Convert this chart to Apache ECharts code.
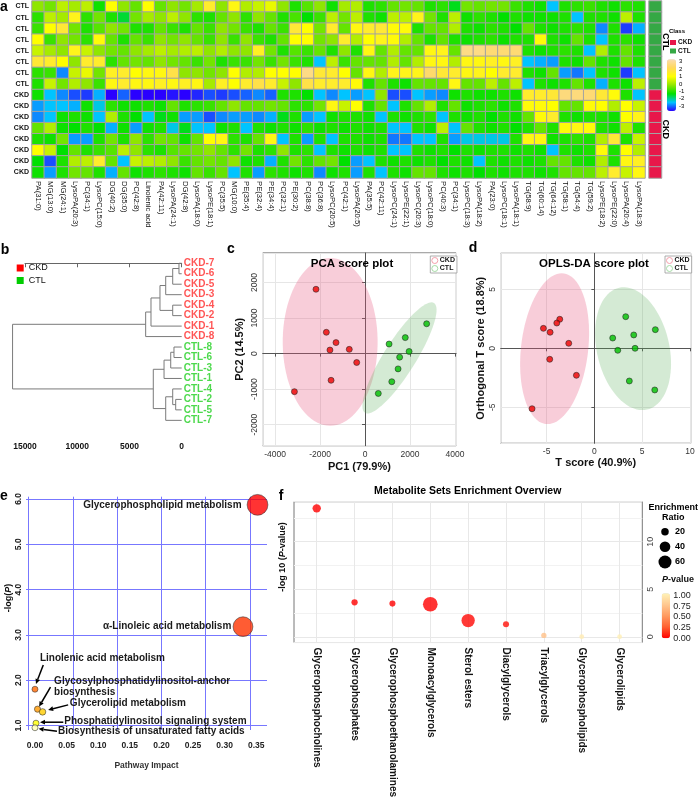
<!DOCTYPE html>
<html><head><meta charset="utf-8">
<script src="https://cdn.jsdelivr.net/npm/echarts@6/dist/echarts.min.js"></script>
<style>html,body{margin:0;padding:0;background:#fff}#c{width:698px;height:800px}</style>
</head><body><div id="c"></div>
<script>
const F = "'Liberation Sans', Arial, Helvetica, sans-serif";

// ---------- panel a: heatmap ----------
const heatCols = ['PA(31:0)','MG(13:0)','MG(24:1)','LysoPA(20:3)','PC(34:1)','LysoPC(15:0)','DG(40:2)','DG(35:0)','PC(42:8)','Linolenic acid','PA(42:11)','LysoPA(24:1)','DG(42:8)','LysoPA(18:0)','LysoPE(18:1)','PC(35:5)','MG(10:0)','PE(35:4)','PE(32:4)','PE(34:4)','PC(32:1)','PE(30:2)','PC(38:8)','PC(36:8)','LysoPC(20:5)','PC(42:1)','LysoPA(20:5)','PA(35:5)','PC(42:11)','LysoPC(24:1)','LysoPE(22:1)','LysoPC(20:3)','LysoPC(18:0)','PC(40:3)','PC(34:1)','LysoPC(18:3)','LysoPA(18:2)','PA(23:0)','LysoPC(18:1)','LysoPA(18:1)','TG(58:9)','TG(60:14)','TG(64:12)','TG(58:1)','TG(54:4)','TG(59:2)','LysoPE(18:2)','LysoPE(22:0)','LysoPA(20:4)','LysoPA(18:3)'];
const heatRowLabels = ['CTL','CTL','CTL','CTL','CTL','CTL','CTL','CTL','CKD','CKD','CKD','CKD','CKD','CKD','CKD','CKD'];
const heatRows = [
 [0,-0.2,0.4,0.2,0.4,-0.9,1,0,-0.3,1,-0.3,0,-0.2,0.2,1.5,0,1.2,0.3,0.5,0.8,0,-0.8,-0.4,0,-0.9,0.2, 0.3,-0.8,-0.7,-0.3,-0.2,-0.3,-0.8,-0.7,-1.1,-0.2,-0.3,-0.2,-0.2,-0.6,-0.8,-0.9,-2,-0.8,-0.7,-0.6, -0.8,-0.9,-0.7,-0.8],
 [-0.7,0.4,0.2,1.3,-0.7,-0.2,-0.8,-1.2,-0.2,0.2,0,0.4,0,-0.7,-0.8,-0.3,0,-0.7,0,-0.3,-0.8,-0.5,-1,-0.6,0.4,-0.2, 0.4,-0.8,-0.9,0.4,0.4,1.3,-0.2,-0.8,0.4,-0.9,-0.7,-0.8,-1,-0.8,-0.9,-0.9,-0.9,-0.8,-2.0,-0.8, -0.8,-0.9,0.4,-0.8],
 [-0.6,1,1.6,-0.2,-0.8,-0.4,0,-0.2,-0.8,-0.8,-0.3,-0.6,-0.8,-0.3,-0.6,0,-0.2,-0.6,-0.8,-0.3,-0.6,1.6,1,-0.2,1.5,-0.3, 1.2,1.5,1.6,1.1,1.1,-0.8,-0.3,-0.3,0.3,-0.8,-0.9,-0.7,-0.8,-1,-0.3,-0.8,-0.9,-0.8,-0.7,-0.8, -2.3,-0.8,-2.7,-2.1],
 [1,-0.6,0,-0.2,-0.7,1.1,-0.3,-0.8,-0.3,-0.6,0,-0.2,0,-0.3,-0.6,0,-0.6,0,-0.6,-0.8,-0.3,1,1,-0.2,0,1.5, 0.3,1,1.3,1.1,0.3,-0.3,-0.8,-0.3,-0.8,-0.9,-0.8,-0.7,-0.9,-0.8,-0.8,1.1,-0.8,-0.9,-0.3,-0.8, -2,-0.8,-0.7,-0.9],
 [0.5,0.2,0,1.3,0.5,0,-0.2,-0.3,0,0.2,0.4,0.2,0.3,0.4,0,0.3,0,0,1.4,-0.2,-0.8,-0.4,-0.6,-0.3,-0.8,0, -0.8,1.2,-0.3,0.3,-0.3,-0.3,1.2,1.3,-0.3,2.5,2.5,2.3,2.3,2.3,-0.8,-0.9,-0.8,-0.7,-0.8,-2.0, 0.3,-0.8,-0.3,-0.8],
 [1.6,1.5,1,0,1.5,1.5,-0.7,-0.3,-0.2,-0.3,0,-0.2,-0.3,-0.6,-0.2,-0.8,-0.6,-0.6,-0.2,-0.6,-0.2,-0.6,-0.8,-2,0.4,-0.6, -0.3,-0.3,-0.3,0.3,-0.3,0.3,1.2,1.2,0.3,1.2,1.2,1.4,1.2,1.4,-2.0,-2.1,-2.2,-0.8,-0.9,-0.3, -0.8,-0.9,-0.3,-0.8],
 [-0.7,-0.6,-2.3,0.5,0.8,-0.2,1.4,1.5,1,1.2,1.2,1.8,0,0,-0.2,0,1,0.3,0.3,1,1,1,2.5,1.6,1.5,1, -0.3,1.2,0.3,1.3,1.3,1.3,2.2,1.6,1.5,1.2,1.3,1,1.5,1.5,-0.8,-0.9,-0.3,-2.2,-2.4,-2.0, -0.8,-0.9,-2.7,-2],
 [-0.8,0.5,-0.2,0.3,0,-0.6,1.2,1.5,1.2,1.2,1.4,1.2,1.4,1.2,0.2,1.4,1,1.5,1.8,1.5,0.5,0,1.8,1.5,1.5,1.5, 1.1,-0.8,-0.3,-0.8,-0.9,-0.3,-0.3,-0.3,1.2,-0.3,-0.3,0.4,-0.3,0.4,-2.0,-0.8,-0.9,-0.8,-0.3,-0.8, -2.1,-0.8,-0.9,0.4],
 [-0.9,-2,-2.3,-2.6,-2.7,-2.1,-3,-2.5,-3.2,-3,-3.1,-2.9,-3,-2.8,-2.6,-2.7,-2.6,-2.5,-2.3,-2.5,-0.8,-0.8,-1,-2,-2.3,-2, -2.2,-2,0,-2.6,-2.6,-2,-2.2,-2.3,-0.9,-0.8,-0.9,-0.9,-0.8,-0.9,1.5,1.5,1.6,2.4,2.4,2.3, 1.6,1.1,-0.8,-2],
 [-2.2,-2,-2,-2.1,-0.9,-1.9,-0.7,-0.9,-0.9,-0.8,-0.9,-0.3,-0.8,-0.7,-0.6,-0.3,0,-0.3,-0.3,-0.2,-0.3,-0.7,-0.7,-0.2,1.2,0.5, 1,-0.8,-0.3,-2,-0.8,-0.3,0.3,-0.8,-0.3,-0.9,-0.8,-0.7,-0.9,-0.8,1.1,1.1,1,-0.3,-0.3,1.1, 1,0.3,1,0.5],
 [-2.3,-2,-0.9,-0.8,-0.9,-2,0.3,-0.8,-1,-2,-1.1,-0.9,-2.2,-2.2,-2.6,-2.3,-2.2,-2.2,-2.3,-2.1,-1.1,-0.8,-2.2,-2,-0.9,-0.8, -0.8,-0.9,-2,-0.8,-0.9,-0.8,-0.7,-2,-0.8,-0.9,-0.8,-1,-0.8,-0.9,-0.3,1.1,1.5,-0.8,-0.9,-0.8, -0.8,-0.9,1,1.3],
 [-0.3,0.3,-0.9,-1,-0.8,-1,-2.1,-0.9,-2.2,-0.9,-0.8,-1.9,-1.1,-2,-2,-0.9,-0.8,-2,-0.8,-0.9,-0.8,-0.9,-0.7,-0.9,-0.8,-0.9, -0.8,-0.9,-0.8,-2,-2,-0.8,-0.9,0.4,-2,-0.3,-0.8,-0.9,-0.8,-1,-0.8,-0.3,-0.8,1.1,1.2,1.1, -0.8,-0.9,0.4,-0.8],
 [-0.8,-0.9,-0.2,-2.2,-2.2,-0.8,-0.2,-0.8,0,-0.7,-0.2,-0.3,-0.9,-0.3,1,1.2,-0.7,-0.8,-0.3,1.2,-2,-0.8,-2.2,-0.8,-2,-0.8, -0.8,-0.9,-0.8,-2.4,-2.4,-2,-2,-0.8,-2.2,-1.9,-1.9,-1.9,-1.9,-0.8,1.2,1.2,-0.9,-0.8,-0.7,-0.8, 0.3,1.6,-0.8,0.5],
 [1,0.5,-1,-0.3,-0.8,-0.6,-0.4,0.4,0,-0.7,-0.8,-0.4,-0.3,-0.2,0,-0.3,-0.7,-0.2,-0.8,-0.7,0,-0.8,-0.7,-2,-0.8,-0.9, -0.8,-0.9,-0.8,-2,-2,-0.8,-0.9,-0.8,-1,-0.8,-0.9,-0.8,-0.8,-0.9,-0.8,-0.9,-2,-0.8,-0.9,-0.8, 1.1,-0.8,1,0.3],
 [-1,-2.6,-0.8,0.3,0.4,1.5,-0.3,-2,0.5,0.4,0.3,0,-0.6,-0.3,-0.2,-0.3,0,-0.9,-0.8,-2.1,-0.8,-0.2,-0.7,-0.3,-0.2,-1, -2.2,-2,-0.8,-0.9,-0.8,-0.9,-0.8,-1,-0.8,-0.9,-2,-0.8,-0.9,-0.8,-0.9,-0.8,-0.3,-0.3,-0.8,-0.9, 0.3,-0.8,1.2,1.4],
 [-0.9,-2.2,-0.8,-0.2,-0.3,-0.8,-2.1,-0.3,-0.9,-0.8,-0.7,-0.8,-0.9,-0.3,-0.6,-0.3,-2,-0.8,-2.2,-0.7,-0.8,-0.9,-0.8,-2.3,-0.9,-0.8, -2.2,-0.8,-2,-0.8,-0.9,-0.3,-0.3,-0.8,-0.9,-0.8,-1,-0.8,-0.9,-0.8,-0.8,-0.9,-0.8,-0.3,-0.3,-0.3, 0.4,1.5,0.5,1.2]
];
const heatTicks = [3,2,1,0,-1,-2,-3];

// ---------- panel b: dendrogram ----------
const leafOrder = ['CKD-7','CKD-6','CKD-5','CKD-3','CKD-4','CKD-2','CKD-1','CKD-8','CTL-8','CTL-6','CTL-3','CTL-1','CTL-4','CTL-2','CTL-5','CTL-7'];
const merges = [
 ['CKD-7','CKD-6',260],['m0','CKD-5',860],['m1','CKD-3',1530],['CKD-4','CKD-2',860],['m2','m3',2080],
 ['m4','CKD-1',2940],['m5','CKD-8',3450],['CTL-8','CTL-6',740],['m7','CTL-3',1050],['m8','CTL-1',1690],
 ['CTL-2','CTL-5',575],['CTL-4','m10',860],['m11','CTL-7',1530],['m9','m12',2720],['m6','m13',16190]
];

// ---------- panel c: PCA ----------
const pcaCKD = [[-2180,1810],[-1720,600],[-1290,310],[-1560,100],[-700,120],[-370,-250],[-1510,-750],[-3140,-1070]];
const pcaCTL = [[2740,840],[1790,450],[1070,270],[1960,60],[1540,-100],[1470,-430],[1190,-790],[590,-1120]];
const pcaEllCKD = {c:[-1550,330], a:[0,2360], b:[2110,0]};
const pcaEllCTL = {c:[1533,-121], a:[1533,1545], b:[604,-239]};

// ---------- panel d: OPLS-DA ----------
const oplsCKD = [[-5.33,1.69],[-3.62,2.46],[-3.93,2.14],[-4.63,1.36],[-2.68,0.42],[-4.67,-0.93],[-1.88,-2.29],[-6.52,-5.12]];
const oplsCTL = [[3.28,2.68],[6.38,1.58],[4.12,1.13],[1.92,0.87],[2.45,-0.17],[4.26,0],[3.66,-2.77],[6.32,-3.53]];
const oplsEllCKD = {c:[-4.16,-0.03], a:[0.74,6.39], b:[3.53,0]};
const oplsEllCTL = {c:[4.05,-0.03], a:[-1.19,5.2], b:[3.79,0.3]};

// ---------- panel e: pathway impact ----------
const ePathways = ['Glycerophospholipid metabolism','α-Linoleic acid metabolism','Linolenic acid metabolism','Glycosylphosphatidylinositol-anchor biosynthesis','Glycerolipid metabolism','Phosphatidylinositol signaling system','Biosynthesis of unsaturated fatty acids'];
const eImpact = [0.352,0.329,0.0,0.004,0.012,0.0016,0.0];
const eLogP = [5.87,3.18,1.80,1.36,1.30,1.05,0.95];
const eYTicks = [1,2,3,4,5,6];
const eGridX = [-0.0142,0.056,0.1262,0.1964,0.2666,0.3368];

// ---------- panel f: enrichment ----------
const fSets = ['Glycerophosphocholines','Glycerophosphates','Glycerophosphoethanolamines','Monoacylglycerols','Sterol esters','Diacylglycerols','Triacylglycerols','Glycerophospholipids','Glycerolipids'];
const fLogP = [13.5,3.63,3.49,3.42,1.71,1.33,0.15,0.02,0.01];
const fRatio = [25,14,13,76,63,13,10,8,8];
const fMinorY = [2.5,7.5,12.5];
const fSizeLegend = [20,40,60];
const fPTicks = [1.00,0.75,0.50,0.25,0.00];

// ================== build ==================
const heatData = [];
heatRows.forEach((row,r)=>row.forEach((v,c)=>heatData.push([c,r,v])));
const clsCKD = [], clsCTL = [];
heatRowLabels.forEach((l,r)=>(l==='CKD'?clsCKD:clsCTL).push([0,r,1]));

const nodePos = {};
leafOrder.forEach((n,i)=>nodePos[n]=[0,i]);
merges.forEach((m,k)=>{const a=nodePos[m[0]], b=nodePos[m[1]]; nodePos['m'+k]=[m[2],(a[1]+b[1])/2];});

const fSize = r => 1.68*Math.sqrt(r);
const eSize = imp => 6 + 42*imp;
const heatPal = ['#FF0000','#FF3300','#FF6600','#FF9900','#FFCC00','#FFFF00','#FFFFB8'];
const eRank = eLogP.map((v,i)=>i).sort((a,b)=>eLogP[b]-eLogP[a]);
const eColorIdx = []; eRank.forEach((idx,r)=>eColorIdx[idx]=r);
const plain = v => String(Math.round(v*1000)/1000);

const eAnno = [
 {t:[-16,0], align:'right'},
 {t:[-11.7,0], align:'right'},
 {t:[5,-31], align:'left', tail:[8.3,-24.3], head:[1,-5.3]},
 {t:[16.6,-22.5], align:'left', wrap:true, tail:[13,-22], head:[1.6,-2.6]},
 {t:[27.3,-8.7], align:'left', tail:[25.6,-7], head:[5.6,-2]},
 {t:[28.3,-2], align:'left', tail:[27.3,-1], head:[4,-1]},
 {t:[23,3.4], align:'left', tail:[22,3.4], head:[3.6,1]}
];

function ellipseSeries(gi, ell, fill){
  return {type:'custom', xAxisIndex:gi, yAxisIndex:gi, clip:true, silent:true, z:1,
    data:[[ell.c[0], ell.c[1]]],
    renderItem(params, api){
      const pts=[];
      for(let k=0;k<90;k++){const t=k/90*2*Math.PI;
        pts.push(api.coord([ell.c[0]+ell.a[0]*Math.cos(t)+ell.b[0]*Math.sin(t), ell.c[1]+ell.a[1]*Math.cos(t)+ell.b[1]*Math.sin(t)]));}
      return {type:'polygon', shape:{points:pts}, style:{fill}};
    }};
}
function T(text,x,y,o){o=o||{};
  const st={text, fill:o.color||'#000', font:(o.bold===false?'':'bold ')+(o.size||9)+'px '+F, align:o.align||'center', verticalAlign:'middle'};
  if(o.rich) st.rich=o.rich;
  return {type:'text', x, y, rotation:o.rot||0, silent:true, z:100, style:st};
}
const scoreAxisX = (gi,min,max,split,name,gap)=>({gridIndex:gi,type:'value',min,max,splitNumber:split,
  axisLine:{lineStyle:{color:'#555'}}, axisTick:{length:3,lineStyle:{color:'#555'}},
  axisLabel:{showMinLabel:false,showMaxLabel:false,fontSize:8.5,color:'#333',margin:4,fontFamily:F,formatter:plain},
  splitLine:{lineStyle:{color:'#e6e6e6'}},
  name, nameLocation:'middle', nameGap:gap, nameTextStyle:{fontWeight:'bold',fontSize:11,color:'#111',fontFamily:F}});
const scoreAxisY = (gi,min,max,split,name,gap)=>({gridIndex:gi,type:'value',min,max,splitNumber:split,
  axisLine:{lineStyle:{color:'#555'}}, axisTick:{length:3,lineStyle:{color:'#555'}},
  axisLabel:{showMinLabel:false,showMaxLabel:false,fontSize:8.5,color:'#333',margin:4,rotate:90,fontFamily:F,formatter:plain},
  splitLine:{lineStyle:{color:'#e6e6e6'}},
  name, nameLocation:'middle', nameGap:gap, nameTextStyle:{fontWeight:'bold',fontSize:11,color:'#111',fontFamily:F}});
const ptStyle = c => ({color:c, borderColor:'#222', borderWidth:0.7});
const richLbl = {a:{font:'bold 9px '+F, fill:'#111'}, b:{font:'italic bold 9px '+F, fill:'#111'}};

const option = {
  animation:false,
  textStyle:{fontFamily:F},
  grid:[
    {left:32, top:1, width:613, height:177},
    {left:649, top:1, width:12.5, height:177},
    {left:25, top:252.8, width:156.7, height:184.3},
    {left:262.7, top:253, width:193.4, height:192.7, show:true, borderColor:'#555', borderWidth:1},
    {left:500.7, top:253.3, width:190, height:190, show:true, borderColor:'#555', borderWidth:1},
    {left:26, top:496.7, width:241, height:233.3},
    {left:294, top:501.7, width:348.3, height:144, show:true, borderColor:'#777', borderWidth:1}
  ],
  xAxis:[
    {gridIndex:0, type:'category', data:heatCols.map((c,i)=>String(i)), axisLine:{show:false}, axisTick:{show:false},
      axisLabel:{interval:0, rotate:-90, fontSize:7.7, color:'#111', margin:3, formatter:(v,i)=>heatCols[i]}},
    {gridIndex:1, type:'category', data:['0'], show:false},
    {gridIndex:2, type:'value', min:0, max:15000, interval:5000, inverse:true,
      axisLine:{lineStyle:{color:'#666'}}, axisTick:{length:4, lineStyle:{color:'#666'}},
      axisLabel:{fontSize:8.5, fontWeight:'bold', color:'#111', margin:5, formatter:plain}, splitLine:{show:false}},
    scoreAxisX(3,-4550,4050,4,'PC1 (79.9%)',16),
    scoreAxisX(4,-9.8,10.08,4,'T score (40.9%)',14),
    {gridIndex:5, type:'value', min:-0.0142, max:0.367, splitNumber:8, axisLine:{show:false}, axisTick:{show:false}, splitLine:{show:false},
      axisLabel:{showMinLabel:false, showMaxLabel:false, fontSize:8.5, fontWeight:'bold', color:'#222', margin:11, formatter:v=>v.toFixed(2)},
      name:'Pathway Impact', nameLocation:'middle', nameGap:31, nameTextStyle:{fontSize:8.5, fontWeight:'bold', color:'#333'}},
    {gridIndex:6, type:'value', min:-0.6, max:8.6, splitNumber:9, axisLine:{show:false}, axisTick:{show:false}, splitLine:{show:false},
      axisLabel:{rotate:-90, fontSize:10, fontWeight:'bold', color:'#111', margin:5,
        formatter:v=>(Math.abs(v-Math.round(v))<1e-6 && v>=0 && v<fSets.length)?fSets[Math.round(v)]:''}}
  ],
  yAxis:[
    {gridIndex:0, type:'category', inverse:true, data:heatRowLabels.map((l,i)=>String(i)), axisLine:{show:false}, axisTick:{show:false},
      axisLabel:{fontSize:7, fontWeight:'bold', color:'#111', margin:3, formatter:(v,i)=>heatRowLabels[i]}},
    {gridIndex:1, type:'category', inverse:true, data:heatRowLabels.map((l,i)=>String(i)), show:false},
    {gridIndex:2, type:'value', min:-1, max:16.6, inverse:true, show:false},
    scoreAxisY(3,-2590,2830,5,'PC2 (14.5%)',17),
    scoreAxisY(4,-8.05,8.05,3,'Orthogonal T score (18.8%)',14),
    {gridIndex:5, type:'value', min:0.9, max:6.05, splitNumber:5, axisLine:{show:false}, axisTick:{show:false}, splitLine:{show:false},
      axisLabel:{showMinLabel:false, showMaxLabel:false, rotate:90, fontSize:8.5, fontWeight:'bold', color:'#222', margin:3, formatter:v=>v.toFixed(1)}},
    {gridIndex:6, type:'value', position:'right', min:-0.6, max:14.2, splitNumber:3, axisLine:{show:false}, axisTick:{show:false},
      splitLine:{lineStyle:{color:'#e8e8e8'}},
      axisLabel:{showMinLabel:false, showMaxLabel:false, rotate:90, fontSize:9, color:'#444', margin:4, formatter:plain}}
  ],
  visualMap:[
    {type:'continuous', seriesIndex:0, dimension:2, min:-3, max:3, show:true, calculable:false, hoverLink:false,
      left:667, top:59.3, itemWidth:9, itemHeight:51.7, padding:0,
      inRange:{color:['#2a00ff','#00c4ff','#00e000','#8fe600','#ffff00','#ffd95a','#fbdcb0']}},
    {type:'continuous', seriesIndex:18, dimension:3, min:0, max:1, show:true, calculable:false, hoverLink:false,
      left:661.7, top:593.3, itemWidth:8.3, itemHeight:45, padding:0,
      inRange:{color:['#ff0000','#ff6030','#ff9a60','#ffc890','#fff3b8']}}
  ],
  legend:[
    {left:670, top:39, orient:'vertical', itemWidth:6, itemHeight:5, itemGap:1.5, padding:0, selectedMode:false,
      textStyle:{fontSize:6.5, fontWeight:'bold', color:'#111', padding:[0,0,0,-3]},
      data:[{name:'CKD', icon:'rect', itemStyle:{color:'#e8174a', borderWidth:0}},{name:'CTL', icon:'rect', itemStyle:{color:'#35a845', borderWidth:0}}]},
    {left:16.7, top:263.5, orient:'vertical', itemWidth:7, itemHeight:7, itemGap:3.5, padding:0, selectedMode:false,
      textStyle:{fontSize:9, color:'#111'},
      data:[{name:'CKD', icon:'rect', itemStyle:{color:'#ff0000', borderWidth:0}},{name:'CTL', icon:'rect', itemStyle:{color:'#00cc00', borderWidth:0}}]},
    {left:430.3, top:256, orient:'vertical', itemWidth:6, itemHeight:6, itemGap:1, padding:[1,2,1,1], selectedMode:false,
      backgroundColor:'#fff', borderColor:'#999', borderWidth:0.8,
      textStyle:{fontSize:7, fontWeight:'bold', color:'#111', padding:[0,0,0,-3]},
      data:[{name:'CKD', icon:'circle', itemStyle:{color:'rgba(0,0,0,0)', borderColor:'#f4a0ac', borderWidth:1}},{name:'CTL', icon:'circle', itemStyle:{color:'rgba(0,0,0,0)', borderColor:'#a6dca6', borderWidth:1}}]},
    {left:665, top:256, orient:'vertical', itemWidth:6, itemHeight:6, itemGap:1, padding:[1,2,1,1], selectedMode:false,
      backgroundColor:'#fff', borderColor:'#999', borderWidth:0.8,
      textStyle:{fontSize:7, fontWeight:'bold', color:'#111', padding:[0,0,0,-3]},
      data:[{name:'CKD', icon:'circle', itemStyle:{color:'rgba(0,0,0,0)', borderColor:'#f4a0ac', borderWidth:1}},{name:'CTL', icon:'circle', itemStyle:{color:'rgba(0,0,0,0)', borderColor:'#a6dca6', borderWidth:1}}]}
  ],
  series:[
    {type:'heatmap', xAxisIndex:0, yAxisIndex:0, data:heatData, itemStyle:{borderColor:'#a3a3a3', borderWidth:1}, emphasis:{disabled:true}},
    {type:'heatmap', name:'CKD', xAxisIndex:1, yAxisIndex:1, data:clsCKD, itemStyle:{color:'#e8174a', borderColor:'#a3a3a3', borderWidth:1}},
    {type:'heatmap', name:'CTL', xAxisIndex:1, yAxisIndex:1, data:clsCTL, itemStyle:{color:'#35a845', borderColor:'#a3a3a3', borderWidth:1}},
    {type:'custom', xAxisIndex:2, yAxisIndex:2, clip:false, silent:true,
      data:merges.map((m,i)=>[m[2], nodePos['m'+i][1]]),
      renderItem(params, api){
        const m=merges[params.dataIndex], a=nodePos[m[0]], b=nodePos[m[1]], h=m[2];
        return {type:'polyline', shape:{points:[api.coord([a[0],a[1]]),api.coord([h,a[1]]),api.coord([h,b[1]]),api.coord([b[0],b[1]])]},
          style:{stroke:'#7a7a7a', lineWidth:1, fill:null}};
      }},
    {type:'scatter', name:'CKD', xAxisIndex:2, yAxisIndex:2, symbolSize:0.1, itemStyle:{color:'#ff0000'}, silent:true,
      data:leafOrder.map((n,i)=>({name:n, value:[0,i]})).filter(d=>d.name.startsWith('CKD')),
      label:{show:true, position:'right', distance:2, formatter:'{b}', color:'#ff2a2a', fontWeight:'bold', fontSize:10}},
    {type:'scatter', name:'CTL', xAxisIndex:2, yAxisIndex:2, symbolSize:0.1, itemStyle:{color:'#00cc00'}, silent:true,
      data:leafOrder.map((n,i)=>({name:n, value:[0,i]})).filter(d=>d.name.startsWith('CTL')),
      label:{show:true, position:'right', distance:2, formatter:'{b}', color:'#22d022', fontWeight:'bold', fontSize:10}},
    ellipseSeries(3, pcaEllCKD, 'rgba(232,90,130,0.30)'),
    ellipseSeries(3, pcaEllCTL, 'rgba(90,175,90,0.26)'),
    {type:'scatter', name:'CKD', xAxisIndex:3, yAxisIndex:3, data:pcaCKD, symbolSize:6, itemStyle:ptStyle('#ee0000'), z:3},
    {type:'scatter', name:'CTL', xAxisIndex:3, yAxisIndex:3, data:pcaCTL, symbolSize:6, itemStyle:ptStyle('#00c000'), z:3},
    ellipseSeries(4, oplsEllCKD, 'rgba(232,90,130,0.30)'),
    ellipseSeries(4, oplsEllCTL, 'rgba(90,175,90,0.26)'),
    {type:'scatter', name:'CKD', xAxisIndex:4, yAxisIndex:4, data:oplsCKD, symbolSize:6, itemStyle:ptStyle('#ee0000'), z:3},
    {type:'scatter', name:'CTL', xAxisIndex:4, yAxisIndex:4, data:oplsCTL, symbolSize:6, itemStyle:ptStyle('#00c000'), z:3},
    {type:'scatter', xAxisIndex:5, yAxisIndex:5, data:[], z:1, silent:true,
      markLine:{z:1, silent:true, symbol:'none', label:{show:false}, animation:false, lineStyle:{color:'#7777ff', width:1, type:'solid'},
        data:[...eYTicks.map(v=>({yAxis:v})), ...eGridX.map(v=>({xAxis:v}))]}},
    {type:'scatter', xAxisIndex:5, yAxisIndex:5, z:3,
      data:ePathways.map((n,i)=>({name:n, value:[eImpact[i], eLogP[i]]})),
      symbolSize:v=>eSize(v[0]),
      itemStyle:{color:p=>heatPal[eColorIdx[p.dataIndex]], borderColor:'#333', borderWidth:0.7}},
    {type:'custom', xAxisIndex:5, yAxisIndex:5, clip:false, silent:true, z:4,
      data:ePathways.map((n,i)=>[eImpact[i], eLogP[i]]),
      renderItem(params, api){
        const i=params.dataIndex, a=eAnno[i];
        const p=api.coord([api.value(0), api.value(1)]);
        const txt = a.wrap ? ePathways[i].replace(' biosynthesis','\nbiosynthesis') : ePathways[i];
        const ch=[{type:'text', x:p[0]+a.t[0], y:p[1]+a.t[1], style:{text:txt, align:a.align, verticalAlign:'middle',
          font:'bold 10px '+F, fill:'#1a1a1a', lineHeight:11.7}}];
        if(a.head){
          const hx=p[0]+a.head[0], hy=p[1]+a.head[1], tx=p[0]+a.tail[0], ty=p[1]+a.tail[1];
          const ang=Math.atan2(hy-ty,hx-tx), L=5, W=2.4;
          const bx=hx-L*Math.cos(ang), by=hy-L*Math.sin(ang);
          ch.push({type:'line', shape:{x1:tx,y1:ty,x2:bx,y2:by}, style:{stroke:'#000', lineWidth:1.5}});
          ch.push({type:'polygon', shape:{points:[[hx,hy],[bx-W*Math.sin(ang),by+W*Math.cos(ang)],[bx+W*Math.sin(ang),by-W*Math.cos(ang)]]}, style:{fill:'#000'}});
        }
        return {type:'group', children:ch};
      }},
    {type:'scatter', xAxisIndex:6, yAxisIndex:6, data:[], z:1, silent:true,
      markLine:{z:1, silent:true, symbol:'none', label:{show:false}, animation:false,
        data:[...fMinorY.map(v=>({yAxis:v, lineStyle:{color:'#f2f2f2', width:1, type:'solid'}})),
              ...fSets.map((s,i)=>({xAxis:i, lineStyle:{color:'#e8e8e8', width:1, type:'solid'}}))]}},
    {type:'scatter', xAxisIndex:6, yAxisIndex:6, z:3,
      data:fSets.map((s,i)=>({name:s, value:[i, fLogP[i], fRatio[i], Math.pow(10,-fLogP[i])]})),
      symbolSize:v=>fSize(v[2])}
  ],
  graphic:[
    T('a',4,7,{size:14}), T('b',5,250,{size:14}), T('c',231,249,{size:14}), T('d',473,248,{size:14}),
    T('e',4,496,{size:14}), T('f',281,496,{size:14}),
    T('CTL',665.5,41.7,{size:9,rot:-Math.PI/2}), T('CKD',665.5,129.3,{size:9,rot:-Math.PI/2}),
    T('Class',677,31.7,{size:6}),
    ...heatTicks.map(v=>T(String(v),679,61.7+(3-v)*7.4,{size:6,bold:false,align:'left'})),
    T('PCA score plot',352,264,{size:11.5}),
    T('OPLS-DA score plot',594,264,{size:11.5}),
    {type:'text', x:8.5, y:598, rotation:Math.PI/2, silent:true, z:100,
      style:{text:'{a|-log(}{b|P}{a|)}', align:'center', verticalAlign:'middle', rich:richLbl}},
    T('Metabolite Sets Enrichment Overview',467.7,491,{size:10.5}),
    {type:'text', x:283, y:557, rotation:Math.PI/2, silent:true, z:100,
      style:{text:'{a|-log 10 (}{b|P}{a|-value)}', align:'center', verticalAlign:'middle', rich:richLbl}},
    T('Enrichment',673.3,507.3,{size:9}), T('Ratio',673.3,517.7,{size:9}),
    ...fSizeLegend.map((r,i)=>({type:'circle', silent:true, z:100, shape:{cx:665, cy:[531.7,546.7,562][i], r:fSize(r)/2}, style:{fill:'#000'}})),
    ...fSizeLegend.map((r,i)=>T(String(r),675,[531.7,546.7,562][i],{size:9,align:'left'})),
    {type:'text', x:678, y:580, silent:true, z:100,
      style:{text:'{b|P}{a|-value}', align:'center', verticalAlign:'middle', rich:richLbl}},
    ...fPTicks.map(v=>T(v.toFixed(2),673.3,638.3-v*42.6,{size:9,bold:false,align:'left',color:'#222'}))
  ]
};

const chart = echarts.init(document.getElementById('c'), null, {renderer:'canvas'});
chart.setOption(option);
</script>
</body></html>
